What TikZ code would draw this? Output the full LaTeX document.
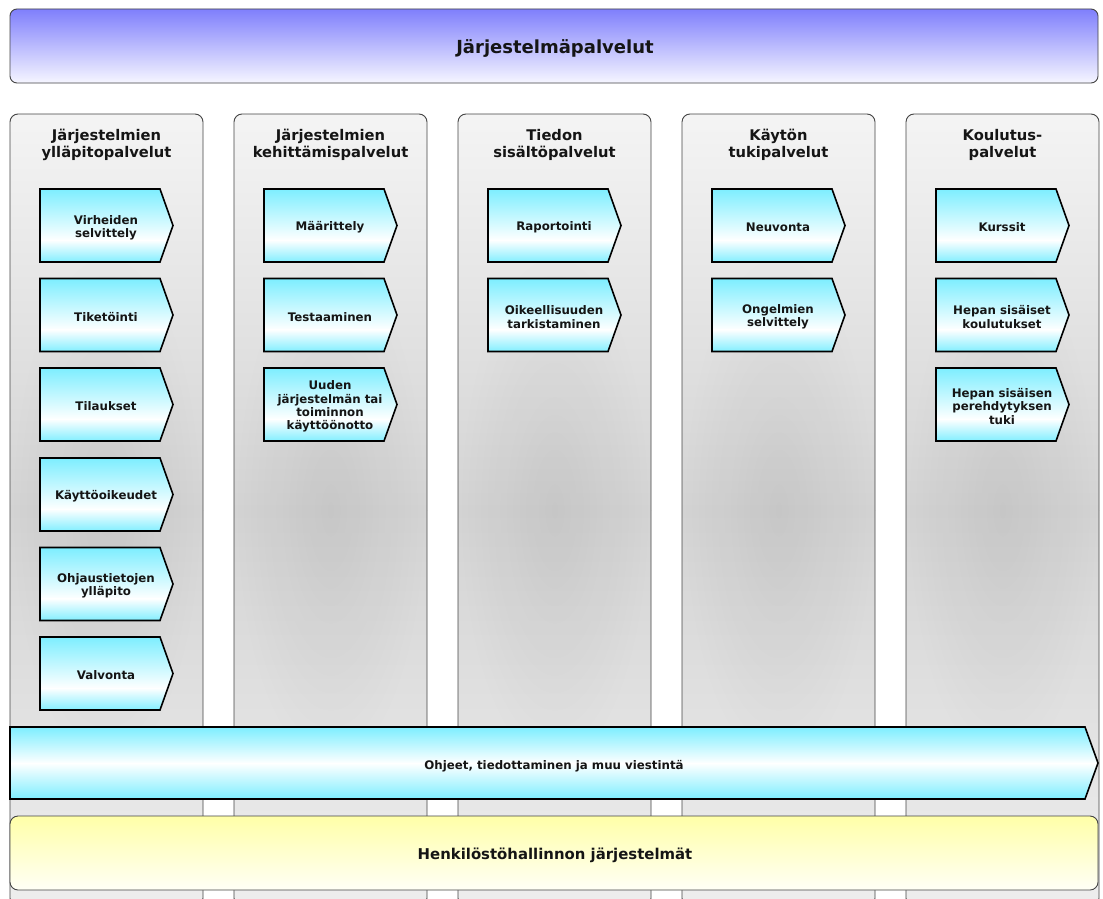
\documentclass[tikz,border=0pt]{standalone}
\usepackage{fontspec}
\setmainfont{DejaVu Sans}
\usetikzlibrary{fadings}

\definecolor{framegray}{HTML}{444444}
\definecolor{bannerblue}{HTML}{7F7FFC}
\definecolor{bannerpale}{HTML}{F6F6FF}
\definecolor{cyantop}{HTML}{7DEEFF}
\definecolor{yellowtop}{HTML}{FFFFA8}
\definecolor{yellowbot}{HTML}{FFFFF6}
\definecolor{coltop}{HTML}{F4F4F4}
\definecolor{colmid}{HTML}{D3D3D3}
\definecolor{colbot}{HTML}{EEEEEE}
\definecolor{textdark}{HTML}{151515}

% opaque centre, transparent rim
\tikzfading[name=centerglow, inner color=transparent!0, outer color=transparent!100]

% all y values are negative: the origin is the top left corner
\tikzset{
  x=1pt, y=1pt,
  colline/.style={draw=framegray, line width=0.9pt, rounded corners=8pt},
  coldown/.style={top color=coltop, bottom color=colmid},
  colup/.style={top color=colmid, bottom color=colbot},
  colshadow/.style={fill=black, opacity=0.06, path fading=centerglow},
  coltitle/.style={font=\fontsize{14.7}{17}\selectfont\bfseries, text=textdark,
    align=center, inner sep=0pt},
  cyandown/.style={top color=cyantop, bottom color=white},
  cyanup/.style={top color=white, bottom color=cyantop},
  chevline/.style={draw=black, line width=1.6pt, line join=miter},
  chevtext/.style={font=\fontsize{11.8}{13.4}\selectfont\bfseries, text=textdark,
    align=center, inner sep=0pt},
  banner/.style={draw=framegray, line width=0.9pt, rounded corners=7pt,
    top color=bannerblue, bottom color=bannerpale},
  basebox/.style={draw=framegray, line width=0.9pt, rounded corners=8pt,
    top color=yellowtop, bottom color=yellowbot},
}

% #1 node name, #2 left x, #3 top y (downwards), #4 label
\newcommand\chevbox[4]{%
  \begin{scope}
    \clip (#2,-#3) -- ++(120,0) -- ++(13,-36.5) -- ++(-13,-36.5) -- ++(-120,0) -- cycle;
    \shade[cyandown] (#2,-#3) rectangle ({#2+134},{-#3-51.5});
    \shade[cyanup] (#2,{-#3-51}) rectangle ({#2+134},{-#3-74});
  \end{scope}
  \path[chevline] (#2,-#3) -- ++(120,0) -- ++(13,-36.5) -- ++(-13,-36.5)
    -- ++(-120,0) -- cycle;
  \node[chevtext] (#1) at ({#2+66},{-#3-38.5}) {#4};}

% #1 node name, #2 left x, #3 title
\newcommand\servicecol[3]{%
  \begin{scope}
    \clip[rounded corners=8pt] (#2,-906) -- (#2,-114) -- ({#2+193},-114) -- ({#2+193},-906) -- cycle;
    \shade[coldown] (#2,-114) rectangle ({#2+193},-510.5);
    \shade[colup] (#2,-510) rectangle ({#2+193},-906);
    \fill[colshadow] ({#2+96.5},-510) ellipse [x radius=96, y radius=260];
  \end{scope}
  \path[colline] (#2,-906) -- (#2,-114) -- ({#2+193},-114) -- ({#2+193},-906) -- cycle;
  \node[coltitle] (#1) at ({#2+96.5},-145) {#3};}

\begin{document}
\begin{tikzpicture}
\useasboundingbox (0,0) rectangle (1103,-899);
\clip (0,0) rectangle (1103,-899);
\fill[white] (0,0) rectangle (1103,-899);

% top banner
\path[banner] (10,-9) rectangle (1098,-83);
\node[font=\fontsize{18}{22}\selectfont\bfseries, text=textdark] (top) at (555,-48.5) {Järjestelmäpalvelut};

% service columns
\servicecol{c1}{10}{Järjestelmien\\ylläpitopalvelut}
\servicecol{c2}{234}{Järjestelmien\\kehittämispalvelut}
\servicecol{c3}{458}{Tiedon\\sisältöpalvelut}
\servicecol{c4}{682}{Käytön\\tukipalvelut}
\servicecol{c5}{906}{Koulutus-\\palvelut}

% ylläpitopalvelut
\chevbox{a1}{40}{189}{Virheiden\\selvittely}
\chevbox{a2}{40}{278.5}{Tiketöinti}
\chevbox{a3}{40}{368}{Tilaukset}
\chevbox{a4}{40}{458}{Käyttöoikeudet}
\chevbox{a5}{40}{547.5}{Ohjaustietojen\\ylläpito}
\chevbox{a6}{40}{637}{Valvonta}

% kehittämispalvelut
\chevbox{b1}{264}{189}{Määrittely}
\chevbox{b2}{264}{278.5}{Testaaminen}
\chevbox{b3}{264}{368}{Uuden\\järjestelmän tai\\toiminnon\\käyttöönotto}

% sisältöpalvelut
\chevbox{d1}{488}{189}{Raportointi}
\chevbox{d2}{488}{278.5}{Oikeellisuuden\\tarkistaminen}

% tukipalvelut
\chevbox{e1}{712}{189}{Neuvonta}
\chevbox{e2}{712}{278.5}{Ongelmien\\selvittely}

% koulutuspalvelut
\chevbox{f1}{936}{189}{Kurssit}
\chevbox{f2}{936}{278.5}{Hepan sisäiset\\koulutukset}
\chevbox{f3}{936}{368}{Hepan sisäisen\\perehdytyksen\\tuki}

% communication bar across all columns
\begin{scope}
  \clip (10,-727) -- (1085,-727) -- (1098,-763) -- (1085,-799) -- (10,-799) -- cycle;
  \shade[cyandown] (10,-727) rectangle (1099,-763.5);
  \shade[cyanup] (10,-763) rectangle (1099,-799);
\end{scope}
\path[chevline] (10,-727) -- (1085,-727) -- (1098,-763) -- (1085,-799) -- (10,-799) -- cycle;
\node[chevtext] (bar) at (554,-766.5) {Ohjeet, tiedottaminen ja muu viestintä};

% base systems
\path[basebox] (10,-816) rectangle (1098,-890);
\node[font=\fontsize{14.9}{18}\selectfont\bfseries, text=textdark] (base) at (555,-855.5) {Henkilöstöhallinnon järjestelmät};
\end{tikzpicture}
\end{document}
